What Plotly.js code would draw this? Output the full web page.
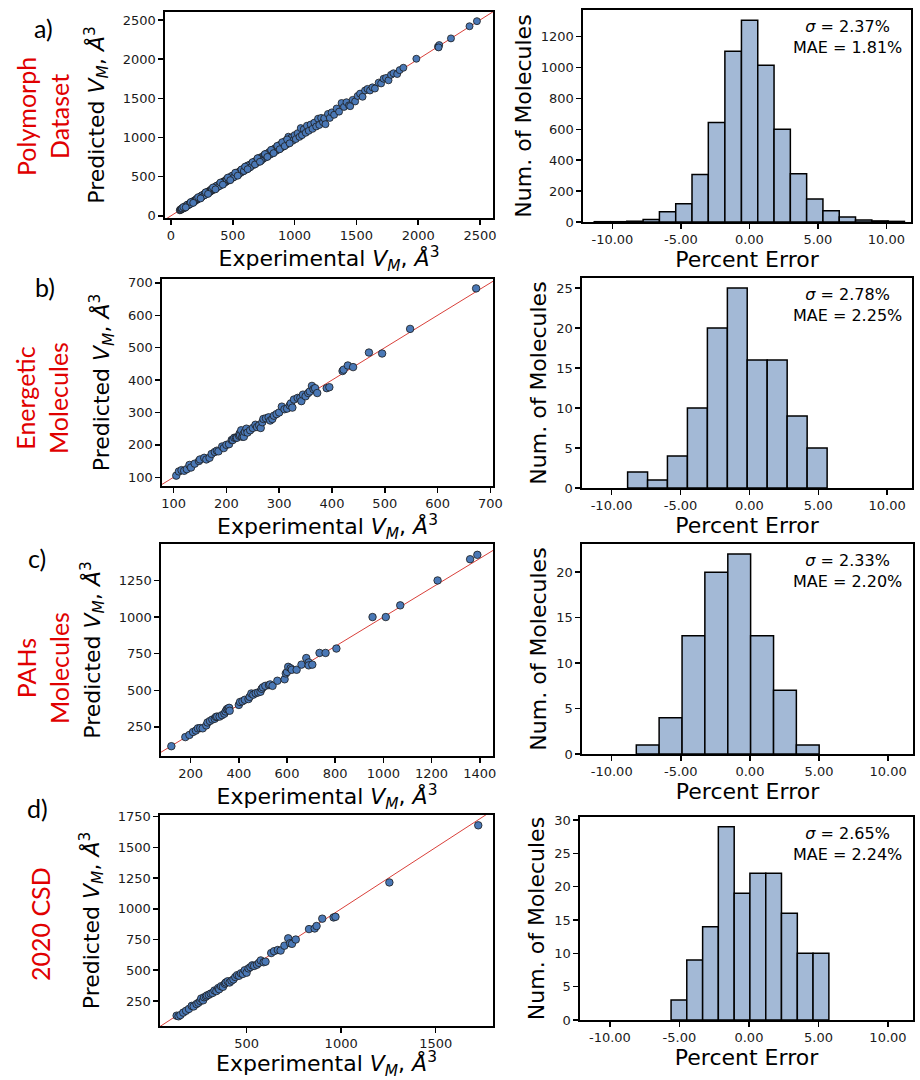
<!DOCTYPE html>
<html>
<head>
<meta charset="utf-8">
<script src="https://cdn.plot.ly/plotly-3.0.1.min.js"></script>
<style>html,body{margin:0;padding:0;background:#fff;}#chart{width:920px;height:1080px;}</style>
</head>
<body>
<div id="chart"></div>
<script>
// ---------------- DATA ----------------
const panelLetters = ["a)", "b)", "c)", "d)"];
const datasetNames = ["Polymorph<br>Dataset", "Energetic<br>Molecules", "PAHs<br>Molecules", "2020 CSD"];
const sigmaTexts = ["2.37%", "2.78%", "2.33%", "2.65%"];
const maeTexts = ["1.81%", "2.25%", "2.20%", "2.24%"];
const histTickVals = [-10, -5, 0, 5, 10];
const histTickLabels = ["-10.00", "-5.00", "0.00", "5.00", "10.00"];

// Panel a: Polymorph dataset (experimental vs predicted)
const aExp = [72,75,80,85,88,95,100,105,110,115,120,125,130,135,140,145,150,155,160,165,170,175,180,185,190,195,200,205,210,215,220,225,230,235,240,245,250,255,260,265,270,275,280,285,290,295,300,305,310,315,320,325,330,335,340,345,350,355,360,365,370,375,380,385,390,395,400,405,410,415,420,425,430,435,440,445,450,455,460,465,470,475,480,485,490,495,500,505,515,525,535,545,555,565,575,585,595,605,615,625,635,645,655,665,675,685,695,705,715,725,735,745,755,765,775,785,795,805,815,825,840,850,860,870,880,890,900,910,925,935,950,960,975,985,1000,1010,1025,1040,1050,1060,1075,1090,1100,1115,1130,1145,1160,1175,1190,1200,1215,1230,1240,1250,1270,1285,1300,1320,1340,1360,1380,1400,1420,1440,1450,1470,1490,1510,1530,1550,1570,1590,1610,1630,1650,1680,1700,1720,1740,1760,1780,1800,1830,1850,1880,1985,2160,2170,2165,2265,2415,2475,
  90,110,130,150,170,190,210,230,250,270,290,310,330,350,370,390,410,430,450,470,490,510,530,550,570,590,620,640,660,680,710,730,760,780,810,830,860,880,900,920,940,960,
  100,120,160,180,220,240,280,300,340,360,400,420,460,480,520,540,600,620,700,720];
const aPred = [70,80,76,90,84,98,96,110,104,118,124,120,135,130,146,140,154,150,166,160,172,170,187,180,194,189,206,200,214,209,226,219,236,229,246,238,257,249,266,258,277,268,288,278,297,287,308,297,318,306,329,316,339,326,348,336,359,346,370,355,379,366,389,375,400,385,411,395,420,405,431,415,441,424,451,434,462,443,472,453,482,462,493,472,502,482,514,492,527,512,548,531,569,550,590,568,610,588,631,607,651,628,672,647,692,666,713,686,733,706,754,726,774,744,795,764,815,783,836,803,862,828,885,846,905,866,928,884,955,910,1010,935,1000,958,1030,980,1055,1008,1120,1030,1105,1060,1150,1085,1165,1110,1190,1140,1240,1160,1250,1195,1245,1170,1300,1250,1320,1290,1370,1330,1440,1390,1450,1410,1400,1480,1460,1530,1560,1520,1600,1620,1600,1640,1625,1700,1690,1750,1760,1730,1800,1820,1810,1860,1890,2005,2160,2180,2150,2265,2420,2485,
  95,100,140,145,178,183,220,222,262,262,302,300,343,340,385,378,425,418,467,456,508,494,548,532,592,572,642,618,685,656,738,704,788,752,842,800,893,850,940,890,975,925,
  112,108,175,165,238,222,300,280,362,338,425,398,488,455,550,512,628,595,735,690];

// Panel b: Energetic molecules
const bExp = [105,110,115,120,125,130,133,140,148,150,158,162,168,172,178,182,185,192,195,200,205,210,212,215,218,220,224,225,226,228,230,232,233,235,238,240,245,250,255,258,262,265,268,270,275,280,283,287,290,295,300,305,310,315,320,322,325,328,335,340,342,345,350,355,358,362,365,368,372,390,395,420,422,430,440,470,495,548,673];
const bPred = [105,118,122,120,125,138,130,142,150,155,160,155,160,172,178,182,180,195,190,200,202,215,215,222,222,222,228,235,230,245,225,232,225,240,250,238,245,252,262,255,260,252,270,280,282,285,275,280,290,295,300,318,310,312,322,328,315,340,345,345,335,355,350,360,365,382,372,375,360,375,378,428,432,445,440,485,482,558,683];

// Panel c: PAHs molecules
const cExp = [120,178,195,210,222,230,240,250,265,270,280,290,300,305,310,320,330,340,345,350,355,360,362,400,405,415,425,440,445,452,460,470,480,490,495,500,510,525,530,540,560,590,595,600,605,615,620,640,660,680,690,690,705,735,760,805,955,1010,1070,1225,1360,1390];
const cPred = [118,180,195,215,225,240,242,240,260,280,290,300,305,318,320,320,330,340,355,370,375,380,360,400,420,425,435,440,455,478,470,480,485,490,510,520,530,535,540,530,565,575,615,625,660,650,640,640,675,720,690,670,675,755,755,785,1000,1000,1080,1250,1395,1425];

// Panel d: 2020 CSD
const dExp = [130,140,150,165,180,195,210,220,235,245,255,260,270,275,285,290,300,310,320,330,340,350,355,365,375,385,390,400,410,420,430,440,450,460,470,480,490,500,510,520,530,540,555,565,575,590,600,630,645,665,680,700,720,730,740,760,830,860,870,900,960,970,1255,1725];
const dPred = [130,125,135,155,170,185,210,205,225,235,250,270,255,280,285,295,300,310,315,335,330,355,345,370,365,390,400,410,400,415,425,445,460,455,475,470,500,480,515,525,540,535,545,560,580,565,570,640,655,665,660,700,760,720,715,750,835,840,860,920,930,935,1215,1680];

// Histograms: bin edges and counts (percent error)
const aEdges = [-11.33,-10.14,-8.95,-7.76,-6.57,-5.38,-4.19,-3.00,-1.79,-0.58,0.61,1.80,2.99,4.18,5.37,6.56,7.75,8.94,10.13,11.32];
const aCounts = [2,2,5,16,67,118,308,644,1105,1306,1015,601,312,149,73,32,13,7,4];
const bEdges = [-8.84,-7.39,-5.95,-4.50,-3.05,-1.60,-0.16,1.29,2.74,4.19,5.64];
const bCounts = [2,1,4,10,20,25,16,16,9,5];
const cEdges = [-8.22,-6.57,-4.91,-3.26,-1.60,0.05,1.71,3.36,5.01];
const cCounts = [1,4,13,20,22,13,7,1];
const dEdges = [-5.60,-4.47,-3.33,-2.20,-1.06,0.07,1.21,2.34,3.48,4.61,5.75];
const dCounts = [3,9,14,29,19,22,22,16,10,10];

// ---------------- BUILD ----------------
const W = 920, H = 1080;
const FONT = "DejaVu Sans, sans-serif";
const LABEL_FONT = "Lato, 'Open Sans', sans-serif";
const scatterSets = [[aExp,aPred],[bExp,bPred],[cExp,cPred],[dExp,dPred]];
const histSets = [[aEdges,aCounts],[bEdges,bCounts],[cEdges,cCounts],[dEdges,dCounts]];

// pixel boxes [left, right, top, bottom]
const scatterBoxes = [[165,493,12,218],[162,493,279,486],[161,493,544,756],[160,493,815,1026]];
const histBoxes = [[583,911,10,222],[582,912,278,488],[582,913,544,754],[580,913,817,1020]];
const scatterX = [[-48,2605],[78,705],[77,1455],[42,1803]];
const scatterY = [[-28,2602],[73,712],[51,1499],[46,1764]];
const scatterXdt = [[0,500],[100,100],[200,200],[500,500]];
const scatterYdt = [[0,500],[100,100],[250,250],[250,250]];
const histYmax = [1372, 26.25, 23.1, 30.45];
const histYdt = [200, 5, 5, 5];
const xTitleStandoff = [3, 3, 3, 6];

const traces = [];
const layout = {
  width: W, height: H,
  margin: {l:0, r:0, t:0, b:0},
  paper_bgcolor: "#ffffff", plot_bgcolor: "#ffffff",
  showlegend: false,
  font: {family: FONT, color: "#000", size: 13},
  annotations: []
};

function dom(box) {
  return {x: [box[0]/W, box[1]/W], y: [1 - box[3]/H, 1 - box[2]/H]};
}
function axisBase() {
  return {
    showline: true, mirror: true, linecolor: "#000", linewidth: 1.6,
    ticks: "outside", ticklen: 5, tickwidth: 1.5, tickcolor: "#000",
    showgrid: false, zeroline: false,
    tickfont: {family: FONT, size: 13, color: "#1a1a1a"},
    automargin: false
  };
}
const xTitle = "Experimental <i>V</i><sub><i>M</i></sub>, <i>Å</i><sup>3</sup>";
const yTitle = "Predicted <i>V</i><sub><i>M</i></sub>, <i>Å</i><sup>3</sup>";

for (let i = 0; i < 4; i++) {
  const sIdx = 2*i + 1, hIdx = 2*i + 2;
  const sx = "x" + (sIdx === 1 ? "" : sIdx), sy = "y" + (sIdx === 1 ? "" : sIdx);
  const hx = "x" + hIdx, hy = "y" + hIdx;
  const sd = dom(scatterBoxes[i]), hd = dom(histBoxes[i]);

  // scatter
  const xr = scatterX[i], yr = scatterY[i];
  const lo = Math.min(xr[0], yr[0]), hi = Math.max(xr[1], yr[1]);
  traces.push({type: "scatter", mode: "lines", x: [lo, hi], y: [lo, hi],
    xaxis: sx, yaxis: sy, line: {color: "#d9403a", width: 1}, hoverinfo: "skip"});
  traces.push({type: "scatter", mode: "markers", x: scatterSets[i][0], y: scatterSets[i][1],
    xaxis: sx, yaxis: sy, cliponaxis: true,
    marker: {color: "#4a78b6", size: i === 0 ? 7 : 7.5, line: {color: "#1b1b1b", width: 0.8}}});

  const xa = Object.assign(axisBase(), {domain: sd.x, anchor: sy, range: xr,
    tick0: scatterXdt[i][0], dtick: scatterXdt[i][1],
    title: {text: xTitle, font: {family: FONT, size: 22, color: "#000"}, standoff: xTitleStandoff[i]}});
  const ya = Object.assign(axisBase(), {domain: sd.y, anchor: sx, range: yr,
    tick0: scatterYdt[i][0], dtick: scatterYdt[i][1],
    title: {text: yTitle, font: {family: FONT, size: 22, color: "#000"}, standoff: 12}});
  layout["xaxis" + (sIdx === 1 ? "" : sIdx)] = xa;
  layout["yaxis" + (sIdx === 1 ? "" : sIdx)] = ya;

  // histogram
  const edges = histSets[i][0], counts = histSets[i][1];
  const centers = counts.map((c, k) => (edges[k] + edges[k+1]) / 2);
  const widths = counts.map((c, k) => edges[k+1] - edges[k]);
  traces.push({type: "bar", x: centers, y: counts, width: widths, xaxis: hx, yaxis: hy,
    marker: {color: "#a3b9d6", line: {color: "#000", width: 1.5}}});
  layout["xaxis" + hIdx] = Object.assign(axisBase(), {domain: hd.x, anchor: hy, range: [-12.15, 11.8],
    tickmode: "array", tickvals: histTickVals, ticktext: histTickLabels,
    title: {text: "Percent Error", font: {family: FONT, size: 22, color: "#000"}, standoff: 2}});
  layout["yaxis" + hIdx] = Object.assign(axisBase(), {domain: hd.y, anchor: hx, range: [0, histYmax[i]],
    tick0: 0, dtick: histYdt[i],
    title: {text: "Num. of Molecules", font: {family: FONT, size: 22, color: "#000"}, standoff: 3}});

  // stats annotation
  const hb = histBoxes[i];
  layout.annotations.push({xref: "paper", yref: "paper", x: 847/W, y: 1 - (hb[2] + 27)/H,
    xanchor: "center", yanchor: "middle", showarrow: false, align: "center",
    text: "<i>σ</i> = " + sigmaTexts[i] + "<br>MAE = " + maeTexts[i],
    font: {family: FONT, size: 16, color: "#000"}});
}

// panel letters and red dataset labels
const letterPos = [[43,28],[45,287],[37,558],[37,808]];
const namePos = [[42,117],[42,398],[42,668],[40,924]];
for (let i = 0; i < 4; i++) {
  layout.annotations.push({xref: "paper", yref: "paper", x: letterPos[i][0]/W, y: 1 - letterPos[i][1]/H,
    xanchor: "center", yanchor: "middle", showarrow: false, text: panelLetters[i],
    font: {family: LABEL_FONT, size: 25, color: "#000"}});
  layout.annotations.push({xref: "paper", yref: "paper", x: namePos[i][0]/W, y: 1 - namePos[i][1]/H,
    xanchor: "center", yanchor: "middle", showarrow: false, text: datasetNames[i], textangle: -90,
    font: {family: LABEL_FONT, size: 25, color: "#e00000"}});
}

Plotly.newPlot("chart", traces, layout, {staticPlot: true, displayModeBar: false});
</script>
</body>
</html>
